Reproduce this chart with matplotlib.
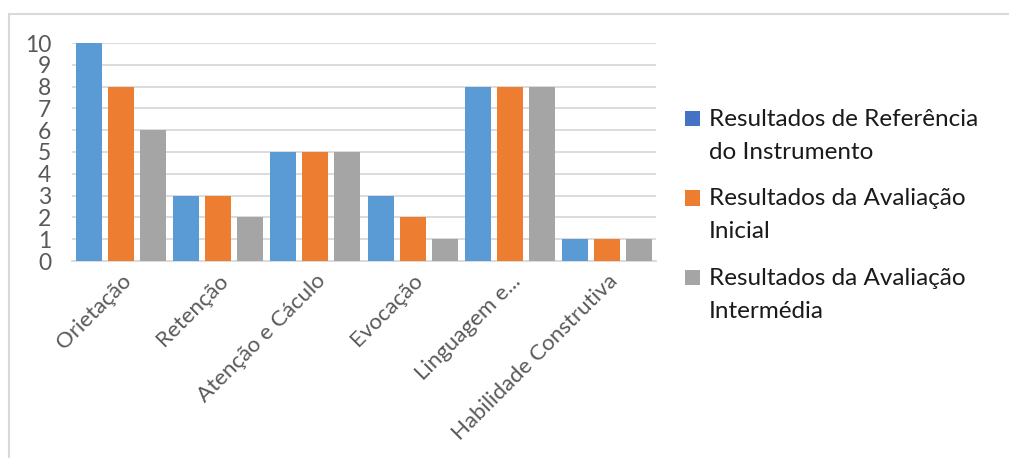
import matplotlib
matplotlib.use("Agg")
import matplotlib.pyplot as plt
import numpy as np
from matplotlib.patches import Patch, Rectangle
from matplotlib.lines import Line2D

categories = ["Orietação", "Retenção", "Atenção e Cáculo", "Evocação",
              "Linguagem e...", "Habilidade Construtiva"]
series_names = ["Resultados de Referência\ndo Instrumento",
                "Resultados da Avaliação\nInicial",
                "Resultados da Avaliação\nIntermédia"]
referencia = [10, 3, 5, 3, 8, 1]
inicial = [8, 3, 5, 2, 8, 1]
intermedia = [6, 2, 5, 1, 8, 1]
y_ticks = list(range(0, 11))

bar_colors = ["#5B9BD5", "#ED7D31", "#A5A5A5"]
legend_colors = ["#4472C4", "#ED7D31", "#A5A5A5"]

plt.rcParams['font.family'] = ['Lato', 'DejaVu Sans']


class UpperSquareHandler:
    """Draws the legend square next to the first line of a two-line label."""
    def __init__(self, dy):
        self.dy = dy

    def legend_artist(self, legend, orig_handle, fontsize, handlebox):
        x0, y0 = handlebox.xdescent, handlebox.ydescent
        w, h = handlebox.width, handlebox.height
        patch = Rectangle((-x0, -y0 + self.dy), w, h,
                          facecolor=orig_handle.get_facecolor(),
                          edgecolor="none",
                          transform=handlebox.get_transform())
        handlebox.add_artist(patch)
        return patch


fig = plt.figure(figsize=(10.09, 4.58), dpi=100)
ax = fig.add_axes([72/1009, 1 - 261/458, (656-72)/1009, (261-43)/458])

x = np.arange(len(categories))
width = 0.268
offsets = [-0.33, 0.0, 0.33]
for vals, off, c in zip([referencia, inicial, intermedia], offsets, bar_colors):
    ax.bar(x + off, vals, width=width, color=c, zorder=3)

ax.set_xlim(-0.5, len(categories) - 0.5)
ax.set_ylim(0, 10)
ax.set_yticks(y_ticks)
ax.set_yticklabels([str(v) for v in y_ticks], fontsize=16.5, color="#595959")
ax.set_xticks(x)
ax.set_xticklabels(categories, rotation=45, ha="right", rotation_mode="anchor",
                   fontsize=16, color="#595959")
ax.tick_params(axis="y", length=0, pad=15)
ax.tick_params(axis="x", length=0, pad=7)
ax.yaxis.grid(True, color="#D9D9D9", linewidth=1.3, zorder=0)
ax.set_axisbelow(True)
for s in ["top", "right", "left"]:
    ax.spines[s].set_visible(False)
ax.spines["bottom"].set_color("#D9D9D9")
ax.spines["bottom"].set_linewidth(1.3)

handles = [Patch(facecolor=c, edgecolor="none") for c in legend_colors]
leg = fig.legend(handles, series_names, loc="upper left",
                 bbox_to_anchor=(668/1009, 1 - 92/458), frameon=False,
                 fontsize=17.5, handlelength=0.62, handleheight=0.62,
                 handletextpad=0.35, labelspacing=1.05, borderpad=0.2,
                 handler_map={Patch: UpperSquareHandler(12.5)})
for t in leg.get_texts():
    t.set_color("#1a1a1a")
    t.set_linespacing(1.7)

# outer chart border (top and left visible)
fig.add_artist(Line2D([8.5/1009, 1], [1 - 13.5/458, 1 - 13.5/458],
                      color="#D9D9D9", linewidth=1.5, transform=fig.transFigure))
fig.add_artist(Line2D([8.5/1009, 8.5/1009], [0, 1 - 13.5/458],
                      color="#D9D9D9", linewidth=1.5, transform=fig.transFigure))

fig.savefig("out.png", dpi=100)
